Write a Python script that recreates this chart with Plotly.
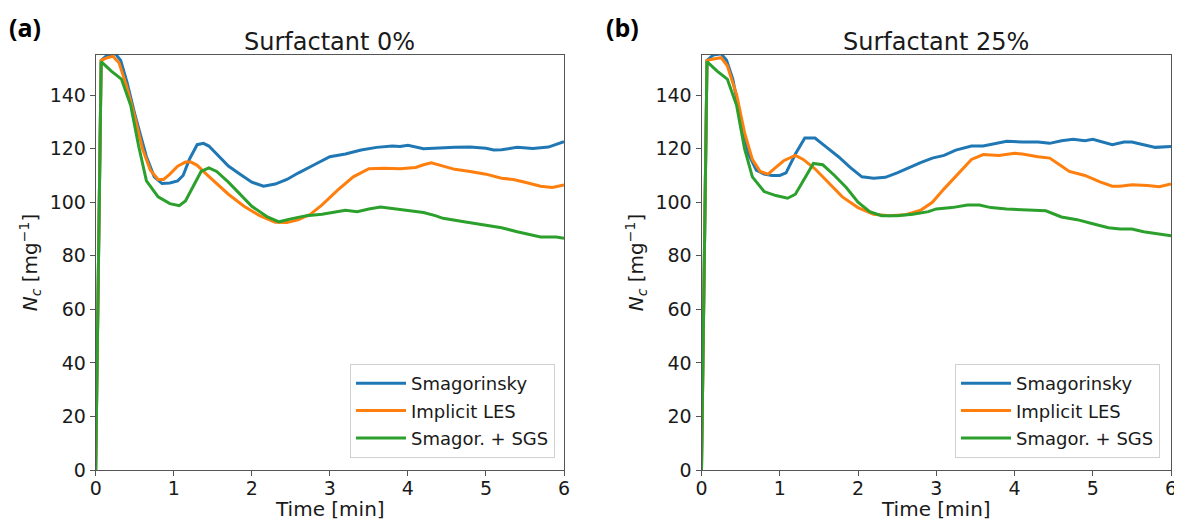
import plotly.graph_objects as go

# ---------------- data ----------------
# Panel (a): Surfactant 0%
a_smag_t = [0, 0.07, 0.15, 0.25, 0.32, 0.4, 0.5, 0.55, 0.65, 0.75, 0.85, 0.95, 1.05, 1.12, 1.2, 1.3, 1.38, 1.45, 1.55, 1.7, 1.85, 2.0, 2.15, 2.3, 2.45, 2.6, 2.8, 3.0, 3.2, 3.4, 3.6, 3.8, 3.9, 4.0, 4.2, 4.4, 4.6, 4.8, 5.0, 5.1, 5.2, 5.4, 5.6, 5.8, 5.9, 6.0]
a_smag_y = [0, 153, 155, 155.5, 153, 145, 133, 128, 117, 109.5, 107, 107.2, 108, 110, 116, 121.5, 122, 121, 118, 113.5, 110.5, 107.5, 106, 106.8, 108.5, 111, 114, 117, 118, 119.5, 120.5, 121, 120.8, 121.3, 120, 120.3, 120.5, 120.6, 120.2, 119.5, 119.6, 120.5, 120.1, 120.6, 121.6, 122.6]

a_iles_t = [0, 0.07, 0.15, 0.22, 0.3, 0.4, 0.5, 0.6, 0.7, 0.8, 0.87, 0.95, 1.05, 1.15, 1.22, 1.3, 1.4, 1.55, 1.7, 1.9, 2.1, 2.3, 2.45, 2.6, 2.75, 2.9, 3.1, 3.3, 3.5, 3.7, 3.9, 4.1, 4.2, 4.3, 4.45, 4.6, 4.8, 5.0, 5.2, 5.35, 5.5, 5.7, 5.85, 6.0]
a_iles_y = [0, 153, 154, 154.5, 152, 143, 132, 120, 112, 108.5, 108.5, 110.5, 113.5, 115, 115, 113.8, 111, 107, 103, 98.5, 95, 92.5, 92.4, 93.5, 95.5, 99, 104.5, 109.5, 112.5, 112.7, 112.5, 113, 114, 114.7, 113.5, 112.3, 111.5, 110.5, 109, 108.5, 107.5, 106, 105.5, 106.5]

a_sgs_t = [0, 0.07, 0.2, 0.33, 0.45, 0.55, 0.65, 0.8, 0.95, 1.07, 1.15, 1.25, 1.35, 1.45, 1.55, 1.7, 1.85, 2.0, 2.2, 2.35, 2.5, 2.7, 2.9, 3.05, 3.2, 3.35, 3.5, 3.65, 3.8, 4.0, 4.2, 4.35, 4.45, 4.7, 5.0, 5.2, 5.4, 5.6, 5.7, 5.9, 6.0]
a_sgs_y = [0, 152.5, 149, 146, 136, 121, 108, 102, 99.5, 98.7, 100.5, 106, 111.5, 112.8, 111.5, 107.5, 103, 98.5, 94.5, 92.7, 93.8, 95, 95.5, 96.3, 97, 96.5, 97.5, 98.2, 97.6, 96.8, 96.2, 95, 94, 92.8, 91.5, 90.5, 89, 87.7, 87, 87, 86.6]

# Panel (b): Surfactant 25%
b_smag_t = [0, 0.07, 0.15, 0.25, 0.32, 0.4, 0.5, 0.6, 0.7, 0.8, 0.9, 1.0, 1.08, 1.2, 1.32, 1.45, 1.6, 1.75, 1.9, 2.05, 2.2, 2.35, 2.5, 2.65, 2.8, 2.95, 3.1, 3.25, 3.45, 3.6, 3.75, 3.9, 4.1, 4.3, 4.45, 4.6, 4.75, 4.9, 5.0, 5.1, 5.25, 5.4, 5.5, 5.65, 5.8, 6.0]
b_smag_y = [0, 153, 155, 155.5, 153, 146, 131, 118, 112, 110.5, 110, 110, 111, 118, 124, 124, 120.5, 117, 113, 109.5, 109, 109.3, 111, 113, 114.8, 116.5, 117.5, 119.5, 121, 121, 122, 122.8, 122.5, 122.5, 122, 123, 123.5, 123, 123.5, 122.8, 121.5, 122.5, 122.5, 121.5, 120.5, 120.8]

b_iles_t = [0, 0.07, 0.15, 0.25, 0.33, 0.45, 0.55, 0.65, 0.75, 0.85, 0.95, 1.05, 1.2, 1.3, 1.45, 1.6, 1.8, 2.0, 2.2, 2.4, 2.6, 2.8, 2.95, 3.1, 3.3, 3.45, 3.6, 3.8, 4.0, 4.1, 4.3, 4.45, 4.6, 4.7, 4.9, 5.1, 5.25, 5.35, 5.5, 5.7, 5.85, 6.0]
b_iles_y = [0, 153, 153.5, 154, 151, 140, 126, 116, 111.5, 110.5, 113, 115.5, 117.5, 116, 112.5, 108, 102, 98, 95.5, 95, 95.3, 97, 100, 105, 111.5, 116, 117.8, 117.5, 118.3, 118, 117, 116.5, 113.5, 111.5, 110, 107.5, 106, 106, 106.5, 106.3, 105.8, 106.8]

b_sgs_t = [0, 0.07, 0.2, 0.33, 0.45, 0.55, 0.65, 0.8, 0.95, 1.1, 1.2, 1.32, 1.43, 1.55, 1.7, 1.85, 2.0, 2.15, 2.3, 2.5, 2.7, 2.9, 3.0, 3.2, 3.4, 3.55, 3.7, 3.9, 4.1, 4.3, 4.4, 4.6, 4.8, 5.0, 5.2, 5.35, 5.5, 5.65, 5.8, 6.0]
b_sgs_y = [0, 152.5, 149, 146, 136, 120, 109.5, 104, 102.5, 101.5, 103, 109, 114.5, 114, 110, 105.5, 100, 96.5, 95, 95, 95.5, 96.5, 97.5, 98, 99, 99, 98, 97.5, 97.3, 97, 96.8, 94.5, 93.5, 92, 90.5, 90, 90, 89, 88.3, 87.5]

series_names = ["Smagorinsky", "Implicit LES", "Smagor. + SGS"]
series_colors = ["#1f77b4", "#ff7f0e", "#2ca02c"]
panel_titles = ["Surfactant 0%", "Surfactant 25%"]
panel_labels = ["(a)", "(b)"]
x_ticks = [0, 1, 2, 3, 4, 5, 6]
y_ticks = [0, 20, 40, 60, 80, 100, 120, 140]

panels = [
    [(a_smag_t, a_smag_y), (a_iles_t, a_iles_y), (a_sgs_t, a_sgs_y)],
    [(b_smag_t, b_smag_y), (b_iles_t, b_iles_y), (b_sgs_t, b_sgs_y)],
]

# ---------------- figure ----------------
OFF = 8                      # page body margin in the browser
W, H = 1182 - OFF, 525 - OFF
FONT = "DejaVu Sans"
TXT = "#1a1a1a"
fig = go.Figure()

def px(x):
    return (x - OFF) / W

x_domains = [[px(95.7), px(564)], [px(701.5), px(1171)]]
legend_right = [px(555), px(1160)]
plot_top, plot_bot = 55 - OFF, 470 - OFF

for p, series in enumerate(panels):
    xa = "x" if p == 0 else "x2"
    ya = "y" if p == 0 else "y2"
    lg = "legend" if p == 0 else "legend2"
    for k, (t, y) in enumerate(series):
        fig.add_trace(go.Scatter(
            x=t, y=y, mode="lines", name=series_names[k],
            line=dict(color=series_colors[k], width=3),
            xaxis=xa, yaxis=ya, legend=lg, showlegend=True,
            legendgroup=f"p{p}s{k}",
        ))

axis_common = dict(
    showline=True, linecolor="#555555", linewidth=1, mirror=True,
    ticks="outside", ticklen=5, tickwidth=1, tickcolor="#555555",
    showgrid=False, zeroline=False, automargin=False,
    tickfont=dict(family=FONT, size=19, color=TXT),
)

layout = dict(
    width=W, height=H,
    margin=dict(l=0, r=0, t=plot_top, b=H - plot_bot),
    paper_bgcolor="white", plot_bgcolor="white",
    font=dict(family=FONT, color=TXT),
)

ph = plot_bot - plot_top
for p in range(2):
    sx = "" if p == 0 else "2"
    layout["xaxis" + sx] = dict(
        axis_common, domain=x_domains[p], range=[0, 6],
        tickvals=x_ticks, anchor="y" + sx, ticklabelstandoff=-4,
    )
    layout["yaxis" + sx] = dict(
        axis_common, domain=[0, 1], range=[0, 155],
        tickvals=y_ticks, anchor="x" + sx,
        title=dict(text="<i>N<sub>c</sub></i> [mg<sup>−1</sup>]",
                   font=dict(family=FONT, size=20, color=TXT), standoff=6),
    )
    layout["legend" + ("" if p == 0 else "2")] = dict(
        x=legend_right[p], xanchor="right", y=(470 - 458) / ph, yanchor="bottom",
        bgcolor="rgba(255,255,255,0.85)", bordercolor="#d0d0d0", borderwidth=1,
        font=dict(family=FONT, size=18, color=TXT),
        tracegroupgap=1, itemwidth=50,
    )

fig.update_layout(**layout)

annots = []
centers = [(x_domains[0][0] + x_domains[0][1]) / 2, (x_domains[1][0] + x_domains[1][1]) / 2]
label_x = [px(7), px(604)]
for p in range(2):
    annots.append(dict(
        text=panel_titles[p], xref="paper", yref="paper",
        x=centers[p], y=1, yanchor="bottom", yshift=-3, xanchor="center",
        showarrow=False, font=dict(family=FONT, size=24, color=TXT),
    ))
    annots.append(dict(
        text="Time [min]", xref="paper", yref="paper",
        x=centers[p], y=0, yanchor="middle", yshift=-(509 - 470), xanchor="center",
        showarrow=False, font=dict(family=FONT, size=20, color=TXT),
    ))
    annots.append(dict(
        text="<b>" + panel_labels[p] + "</b>", xref="paper", yref="paper",
        x=label_x[p], xanchor="left", y=1, yanchor="top", yshift=plot_top,
        showarrow=False, font=dict(family="Open Sans", size=25, color="#000000"),
    ))
fig.update_layout(annotations=annots)

fig.write_html("out.html")
